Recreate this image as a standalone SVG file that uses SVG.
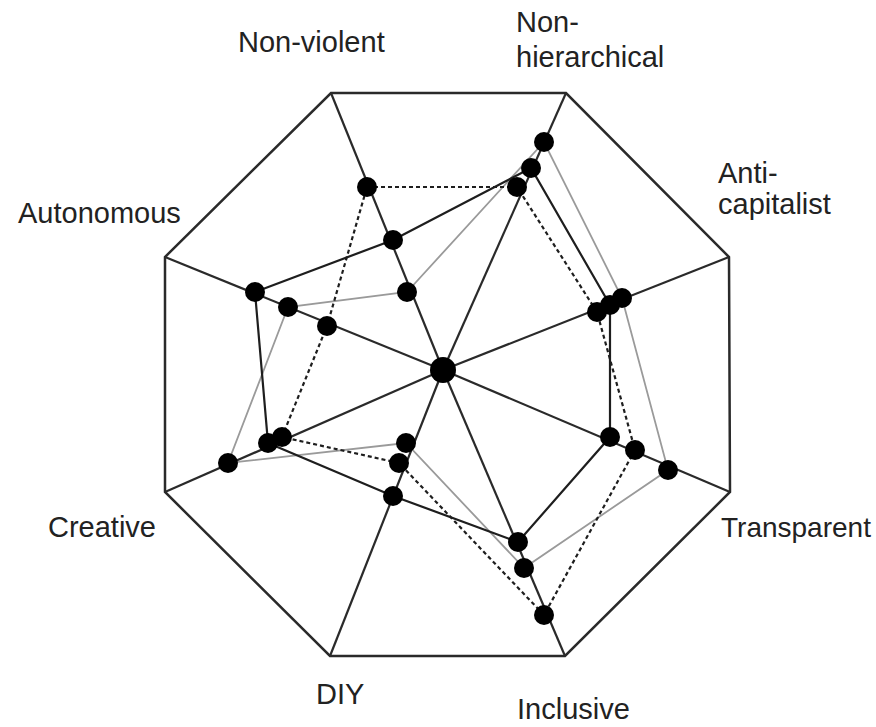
<svg xmlns="http://www.w3.org/2000/svg" width="876" height="727" viewBox="0 0 876 727">
<style>
.frame{fill:none;stroke:#2a2a2a;stroke-width:2.5;stroke-linejoin:miter}
.spoke{stroke:#2a2a2a;stroke-width:2.2}
.s1{fill:none;stroke:#1e1e1e;stroke-width:2.2}
.s2{fill:none;stroke:#9a9a9a;stroke-width:1.8}
.s3{fill:none;stroke:#1e1e1e;stroke-width:2.2;stroke-dasharray:4 3}
.dot{fill:#000}
.lbl{font-family:"Liberation Sans",Arial,Helvetica,sans-serif;font-size:29px;fill:#222}
</style>
<rect width="876" height="727" fill="#fff"/>
<g id="frame">
<polygon class="frame" points="331,93 566,93 729,257 730,492 565,656 330,656 165,492 165,257"/>
</g>
<g id="spokes">
<line class="spoke" x1="443" y1="370" x2="331" y2="93"/>
<line class="spoke" x1="443" y1="370" x2="566" y2="93"/>
<line class="spoke" x1="443" y1="370" x2="729" y2="257"/>
<line class="spoke" x1="443" y1="370" x2="730" y2="492"/>
<line class="spoke" x1="443" y1="370" x2="565" y2="656"/>
<line class="spoke" x1="443" y1="370" x2="330" y2="656"/>
<line class="spoke" x1="443" y1="370" x2="165" y2="492"/>
<line class="spoke" x1="443" y1="370" x2="165" y2="257"/>
</g>
<g id="connectors">
<polygon class="s2" points="407,292 544,142 622,298 668,470 524,568 406,443 228,463 288,307"/>
<polygon class="s1" points="393,240 531,168 610,305 610,437 518,542 393,496 268,443 255,292"/>
<polygon class="s3" points="367,187 517,187 597,312 635,450 544,615 399,463 282,437 327,326"/>
</g>
<g id="hub"><circle class="dot" cx="443" cy="370" r="13"/></g>
<g id="axis-nonviolent">
<circle class="dot" cx="367" cy="187" r="10"/>
<circle class="dot" cx="393" cy="240" r="10"/>
<circle class="dot" cx="407" cy="292" r="10"/>
<text class="lbl" x="238" y="52">Non-violent</text>
</g>
<g id="axis-nonhierarchical">
<circle class="dot" cx="544" cy="142" r="10"/>
<circle class="dot" cx="531" cy="168" r="10"/>
<circle class="dot" cx="517" cy="187" r="10"/>
<text class="lbl" x="516" y="32">Non-</text>
<text class="lbl" x="516" y="67">hierarchical</text>
</g>
<g id="axis-anticapitalist">
<circle class="dot" cx="622" cy="298" r="10"/>
<circle class="dot" cx="610" cy="305" r="10"/>
<circle class="dot" cx="597" cy="312" r="10"/>
<text class="lbl" x="718" y="183">Anti-</text>
<text class="lbl" x="718" y="214">capitalist</text>
</g>
<g id="axis-transparent">
<circle class="dot" cx="610" cy="437" r="10"/>
<circle class="dot" cx="635" cy="450" r="10"/>
<circle class="dot" cx="668" cy="470" r="10"/>
<text class="lbl" x="721" y="537" style="font-size:28px">Transparent</text>
</g>
<g id="axis-inclusive">
<circle class="dot" cx="518" cy="542" r="10"/>
<circle class="dot" cx="524" cy="568" r="10"/>
<circle class="dot" cx="544" cy="615" r="10"/>
<text class="lbl" x="517" y="719">Inclusive</text>
</g>
<g id="axis-diy">
<circle class="dot" cx="406" cy="443" r="10"/>
<circle class="dot" cx="399" cy="463" r="10"/>
<circle class="dot" cx="393" cy="496" r="10"/>
<text class="lbl" x="316" y="704">DIY</text>
</g>
<g id="axis-creative">
<circle class="dot" cx="282" cy="437" r="10"/>
<circle class="dot" cx="268" cy="443" r="10"/>
<circle class="dot" cx="228" cy="463" r="10"/>
<text class="lbl" x="48" y="537">Creative</text>
</g>
<g id="axis-autonomous">
<circle class="dot" cx="255" cy="292" r="10"/>
<circle class="dot" cx="288" cy="307" r="10"/>
<circle class="dot" cx="327" cy="326" r="10"/>
<text class="lbl" x="18" y="223">Autonomous</text>
</g>
</svg>
